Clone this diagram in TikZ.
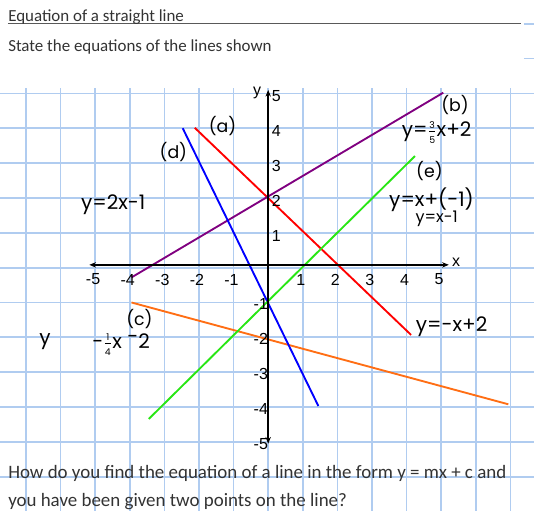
\documentclass[tikz,border=0pt]{standalone}
\usepackage{fontspec}
\setmainfont{Carlito}
\newfontfamily\axisfont{Liberation Sans}
\newfontfamily\handfont{Poppins}
\usetikzlibrary{arrows.meta}
\definecolor{paperblue}{RGB}{176,204,240}
\definecolor{lineorange}{RGB}{255,110,20}
\definecolor{linegreen}{RGB}{40,230,20}
\definecolor{linepurple}{RGB}{128,0,128}
\newcommand{\hfr}[2]{$\frac{\mbox{\scriptsize#1}}{\mbox{\scriptsize#2}}$}

\begin{document}
\begin{tikzpicture}[x=25.95pt,y=26.14pt,
  paper/.style={paperblue,line width=1.3pt},
  plot/.style={line width=1.4pt},
  axis/.style={line width=1.7pt,{Stealth[length=5pt,width=4pt]}-{Stealth[length=5pt,width=4pt]}},
  hand/.style={font=\handfont\fontsize{13}{15}\selectfont,inner sep=0pt},
  eqn/.style={hand,font=\handfont\fontsize{15}{17}\selectfont},
  tick/.style={font=\axisfont\fontsize{12}{14}\selectfont,inner sep=0pt},
  words/.style={anchor=base west,inner sep=0pt,font=\fontsize{12.7}{15}\selectfont,black!80}]
  \fill[white] (-7.751,-6.984) rectangle (7.682,7.679);
  \useasboundingbox (-7.751,-6.984) rectangle (7.682,7.679);
  \foreach \j in {-6,...,5}{\draw[paper] (-7.751,\j) -- (7.682,\j);}
  \foreach \i in {-7,...,7}{\draw[paper] (\i,5.15) -- (\i,-6.984);}
  \foreach \j in {6,7}{\draw[paper] (7.39,\j) -- (7.682,\j);}
  \draw[black!65,line width=1.1pt] (-7.52,7.0) -- (7.31,7.0);
  \node[words] (title) at (-7.52,7.05) {Equation of a straight line};
  \node[words] (task) at (-7.52,6.19) {State the equations of the lines shown};
  \node[words,font=\fontsize{14.2}{16}\selectfont] (ask1) at (-7.52,-6.06) {How do you find the equation of a line in the form y = mx + c and};
  \node[words,font=\fontsize{14.2}{16}\selectfont] (ask2) at (-7.52,-6.84) {you have been given two points on the line?};
  \draw[plot,red] (-2.12,4.01) -- (4.13,-1.93);
  \draw[plot,linepurple] (-3.95,-0.28) -- (5.06,5.02);
  \draw[plot,lineorange] (-3.95,-1.0) -- (6.94,-3.92);
  \draw[plot,blue] (-2.47,4.0) -- (1.45,-3.97);
  \draw[plot,linegreen] (-3.45,-4.34) -- (4.24,3.2);
  \draw[axis] (-5.17,0.08) -- (5.22,0.08);
  \draw[axis] (0,-5.05) -- (0,5.1);
  \node[tick] (ylab) at (-0.32,5.02) {y};
  \node[tick] (xlab) at (5.43,0.14) {x};
  \foreach \x in {-5,-4,-3,-2,-1,1,2,3,4,5}{\node[tick] (tx\x) at (\x-0.06,-0.34) {\x};}
  \foreach \y in {1,...,5}{\node[tick,anchor=west] (ty\y) at (0.1,\y-0.09) {\y};}
  \foreach \y in {1,...,5}{\node[tick,anchor=east] (tn\y) at (0.0,-\y-0.05) {-\y};}
  \node[hand] (la) at (-1.32,4.07) {(a)};
  \node[hand] (lb) at (5.4,4.66) {(b)};
  \node[hand] (lc) at (-3.72,-1.48) {(c)};
  \node[hand] (ld) at (-2.74,3.33) {(d)};
  \node[hand] (le) at (4.66,2.78) {(e)};
  \node[eqn] (eqa) at (5.3,-1.7) {y=-x+2};
  \node[eqn] (eqb) at (4.87,3.88) {y=\hfr{3}{5}x+2};
  \node[eqn] (eqcy) at (-6.45,-2.13) {y};
  \node[eqn] (eqc) at (-4.25,-2.2) {-\hfr{1}{4}x \raisebox{0.4ex}{-}2};
  \node[eqn] (eqd) at (-4.48,1.8) {y=2x-1};
  \node[eqn] (eqe) at (4.72,1.95) {y=x+(-1)};
  \node[hand,font=\handfont\fontsize{12}{14}\selectfont] (eqf) at (4.87,1.4) {y=x-1};
\end{tikzpicture}
\end{document}
